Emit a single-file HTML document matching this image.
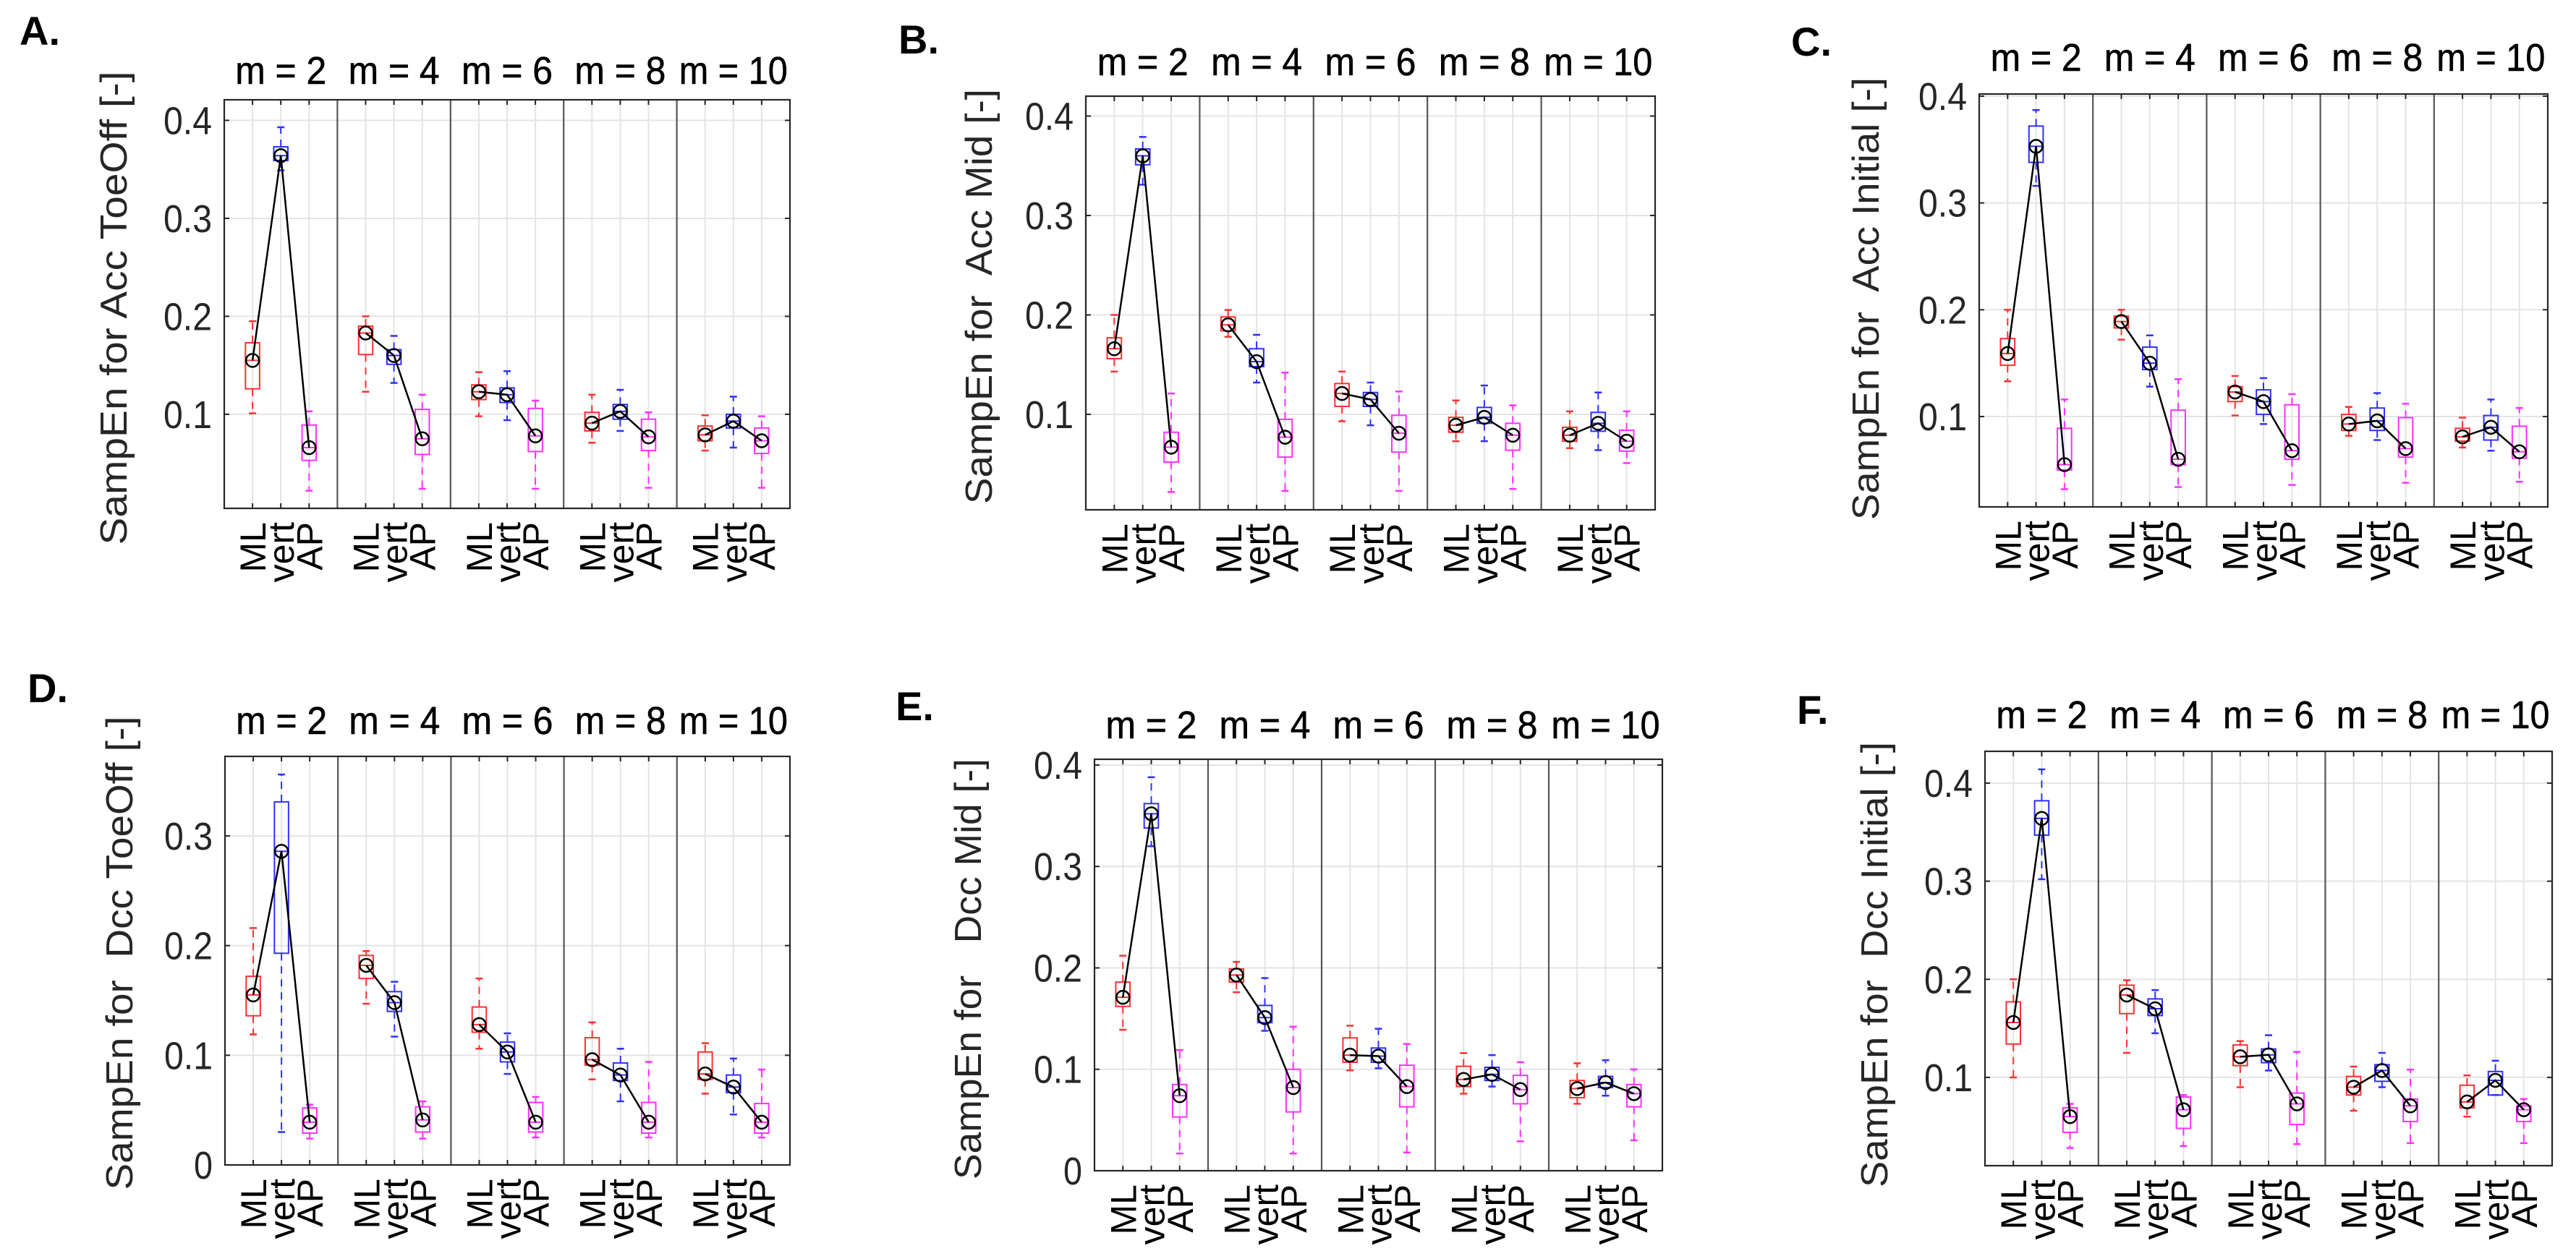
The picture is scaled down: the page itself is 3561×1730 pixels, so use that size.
<!DOCTYPE html>
<html><head><meta charset="utf-8">
<style>
html,body{margin:0;padding:0;background:#fff;}
svg{display:block;font-family:"Liberation Sans",Arial,sans-serif;}
</style></head>
<body>
<svg id="fig" width="3561" height="1730" viewBox="0 0 3561 1730" xmlns="http://www.w3.org/2000/svg"></svg>
<script>
// ---- shared categories ----
const groups = ["m = 2","m = 4","m = 6","m = 8","m = 10"];
const axes3 = ["ML","vert","AP"];
const colors = ["#ff3030","#3030ff","#ff30ff"];

// ---- Panel A: Acc ToeOff ----
const aMed = [0.155,0.364,0.066, 0.183,0.160,0.075, 0.123,0.120,0.078, 0.091,0.103,0.077, 0.079,0.093,0.073];
const aQ1  = [0.126,0.359,0.053, 0.161,0.151,0.059, 0.115,0.112,0.062, 0.083,0.095,0.063, 0.073,0.086,0.060];
const aQ3  = [0.173,0.373,0.089, 0.190,0.166,0.105, 0.130,0.127,0.106, 0.102,0.110,0.095, 0.088,0.100,0.086];
const aLo  = [0.101,0.349,0.022, 0.123,0.132,0.024, 0.098,0.094,0.024, 0.071,0.083,0.025, 0.063,0.066,0.025];
const aHi  = [0.195,0.393,0.103, 0.200,0.180,0.120, 0.143,0.144,0.114, 0.120,0.125,0.102, 0.099,0.118,0.098];
const aTicks = [0.1,0.2,0.3,0.4];

// ---- Panel B: Acc Mid ----
const bMed = [0.166,0.360,0.067, 0.190,0.153,0.077, 0.121,0.115,0.081, 0.089,0.097,0.079, 0.079,0.091,0.073];
const bQ1  = [0.156,0.351,0.052, 0.184,0.148,0.057, 0.108,0.108,0.062, 0.082,0.091,0.064, 0.073,0.083,0.063];
const bQ3  = [0.177,0.367,0.082, 0.198,0.166,0.095, 0.131,0.122,0.099, 0.097,0.107,0.091, 0.087,0.102,0.084];
const bLo  = [0.143,0.331,0.022, 0.178,0.132,0.023, 0.093,0.089,0.023, 0.073,0.073,0.025, 0.066,0.064,0.051];
const bHi  = [0.200,0.379,0.121, 0.205,0.180,0.142, 0.143,0.132,0.123, 0.114,0.129,0.109, 0.103,0.122,0.103];
const bTicks = [0.1,0.2,0.3,0.4];

// ---- Panel C: Acc Initial ----
const cMed = [0.159,0.353,0.055, 0.189,0.150,0.060, 0.123,0.114,0.068, 0.093,0.096,0.070, 0.081,0.090,0.067];
const cQ1  = [0.148,0.338,0.050, 0.183,0.144,0.055, 0.114,0.102,0.060, 0.087,0.087,0.062, 0.077,0.078,0.061];
const cQ3  = [0.173,0.372,0.089, 0.194,0.165,0.106, 0.128,0.125,0.111, 0.102,0.108,0.099, 0.089,0.101,0.091];
const cLo  = [0.133,0.316,0.032, 0.172,0.128,0.034, 0.101,0.093,0.036, 0.082,0.078,0.038, 0.071,0.068,0.039];
const cHi  = [0.200,0.387,0.116, 0.200,0.176,0.135, 0.138,0.136,0.121, 0.109,0.122,0.112, 0.099,0.116,0.108];
const cTicks = [0.1,0.2,0.3,0.4];

// ---- Panel D: Dcc ToeOff ----
const dMed = [0.155,0.286,0.039, 0.182,0.148,0.041, 0.128,0.103,0.039, 0.096,0.082,0.039, 0.083,0.071,0.039];
const dQ1  = [0.136,0.193,0.029, 0.170,0.140,0.030, 0.121,0.094,0.030, 0.091,0.077,0.029, 0.078,0.066,0.029];
const dQ3  = [0.172,0.331,0.052, 0.191,0.158,0.053, 0.144,0.112,0.057, 0.116,0.093,0.057, 0.103,0.082,0.056];
const dLo  = [0.119,0.030,0.024, 0.147,0.117,0.024, 0.106,0.083,0.025, 0.078,0.058,0.025, 0.065,0.046,0.025];
const dHi  = [0.216,0.356,0.055, 0.195,0.167,0.058, 0.170,0.120,0.062, 0.130,0.106,0.094, 0.111,0.097,0.087];
const dTicks = [0,0.1,0.2,0.3];

// ---- Panel E: Dcc Mid ----
const eMed = [0.171,0.352,0.074, 0.193,0.151,0.082, 0.114,0.113,0.083, 0.090,0.095,0.080, 0.081,0.087,0.076];
const eQ1  = [0.162,0.338,0.053, 0.186,0.146,0.058, 0.107,0.107,0.063, 0.083,0.089,0.066, 0.072,0.082,0.063];
const eQ3  = [0.186,0.362,0.085, 0.199,0.163,0.100, 0.131,0.121,0.104, 0.103,0.102,0.094, 0.089,0.093,0.085];
const eLo  = [0.139,0.320,0.017, 0.176,0.138,0.017, 0.099,0.101,0.018, 0.076,0.083,0.029, 0.066,0.074,0.030];
const eHi  = [0.212,0.388,0.119, 0.206,0.190,0.142, 0.143,0.140,0.125, 0.116,0.114,0.107, 0.106,0.109,0.100];
const eTicks = [0,0.1,0.2,0.3,0.4];

// ---- Panel F: Dcc Initial ----
const fMed = [0.156,0.364,0.060, 0.184,0.170,0.067, 0.121,0.123,0.073, 0.090,0.107,0.071, 0.075,0.097,0.067];
const fQ1  = [0.134,0.347,0.044, 0.165,0.163,0.048, 0.112,0.115,0.052, 0.082,0.096,0.055, 0.069,0.082,0.055];
const fQ3  = [0.177,0.382,0.069, 0.194,0.180,0.080, 0.133,0.129,0.084, 0.101,0.113,0.078, 0.092,0.106,0.071];
const fLo  = [0.100,0.302,0.028, 0.125,0.145,0.030, 0.090,0.107,0.032, 0.066,0.090,0.033, 0.060,0.082,0.033];
const fHi  = [0.200,0.414,0.073, 0.199,0.189,0.082, 0.137,0.143,0.126, 0.111,0.125,0.108, 0.102,0.117,0.078];
const fTicks = [0.1,0.2,0.3,0.4];

// ---- layout (pixel geometry, not data) ----
const panels = [
 {id:"a",letter:"A.",lx:27,ly:62,L:310,R:1092,T:138,B:703,ymin:0.004,ymax:0.421,tb:116,ylab:"SampEn for Acc ToeOff [-]",yx:157,yc:426,yl:655,
  med:aMed,q1:aQ1,q3:aQ3,lo:aLo,hi:aHi,ticks:aTicks},
 {id:"b",letter:"B.",lx:1242,ly:74,L:1501,R:2288,T:133,B:705,ymin:0.004,ymax:0.420,tb:104,ylab:"SampEn for  Acc Mid [-]",yx:1353,yc:410,yl:574,
  med:bMed,q1:bQ1,q3:bQ3,lo:bLo,hi:bHi,ticks:bTicks},
 {id:"c",letter:"C.",lx:2476,ly:77,L:2736,R:3522,T:130,B:701,ymin:0.0154,ymax:0.402,tb:98,ylab:"SampEn for  Acc Initial [-]",yx:2579,yc:413,yl:612,
  med:cMed,q1:cQ1,q3:cQ3,lo:cLo,hi:cHi,ticks:cTicks},
 {id:"d",letter:"D.",lx:38,ly:971,L:311,R:1092,T:1046,B:1611,ymin:0,ymax:0.3725,tb:1015,ylab:"SampEn for  Dcc ToeOff [-]",yx:165,yc:1318,yl:655,
  med:dMed,q1:dQ1,q3:dQ3,lo:dLo,hi:dHi,ticks:dTicks},
 {id:"e",letter:"E.",lx:1238,ly:996,L:1513,R:2298,T:1050,B:1619,ymin:0,ymax:0.4057,tb:1021,ylab:"SampEn for   Dcc Mid [-]",yx:1338,yc:1340,yl:582,
  med:eMed,q1:eQ1,q3:eQ3,lo:eLo,hi:eHi,ticks:eTicks},
 {id:"f",letter:"F.",lx:2484,ly:1001,L:2744,R:3528,T:1039,B:1612,ymin:0.010,ymax:0.4324,tb:1007,ylab:"SampEn for  Dcc Initial [-]",yx:2591,yc:1334,yl:616,
  med:fMed,q1:fQ1,q3:fQ3,lo:fLo,hi:fHi,ticks:fTicks}
];

const NS="http://www.w3.org/2000/svg";
const svg=document.getElementById("fig");
function mk(tag,attrs,parent){const e=document.createElementNS(NS,tag);for(const k in attrs)e.setAttribute(k,attrs[k]);(parent||svg).appendChild(e);return e;}

panels.forEach(p=>{
  const g=mk("g",{});
  
  
  const xs=i=>p.L+(p.R-p.L)*(Math.floor(i/3)*4+(i%3)+1)/20;
  const ys=v=>p.B-(v-p.ymin)/(p.ymax-p.ymin)*(p.B-p.T);
  const bw=(p.R-p.L)/20*0.5;

  const lt=mk("text",{x:p.lx,y:p.ly,"font-size":56,"font-weight":"bold",fill:"#000"},g);
  lt.textContent=p.letter;
  
  

  p.ticks.forEach(t=>{
    const y=ys(t);
    const gl=mk("line",{x1:p.L,x2:p.R,y1:y,y2:y,stroke:"#e4e4e4","stroke-width":2},g);
    
    
    mk("line",{x1:p.L,x2:p.L+7,y1:y,y2:y,stroke:"#262626","stroke-width":2},g);
    mk("line",{x1:p.R,x2:p.R-7,y1:y,y2:y,stroke:"#262626","stroke-width":2},g);
    const s=String(t);
    const tl=mk("text",{x:p.L-17,y:y+19,"font-size":54,"text-anchor":"end",fill:"#262626",textLength:s.length>1?67:26,lengthAdjust:"spacingAndGlyphs"},g);
    tl.textContent=s;
    
    
  });
  for(let i=0;i<15;i++){
    const x=xs(i);
    const vl=mk("line",{x1:x,x2:x,y1:p.T,y2:p.B,stroke:"#e4e4e4","stroke-width":2},g);
    
    
    mk("line",{x1:x,x2:x,y1:p.T,y2:p.T+7,stroke:"#262626","stroke-width":2},g);
    mk("line",{x1:x,x2:x,y1:p.B,y2:p.B-7,stroke:"#262626","stroke-width":2},g);
    const ty=p.B+19;
    const xl=mk("text",{x:0,y:0,"font-size":50,"text-anchor":"end",fill:"#000",transform:`translate(${x+18},${ty}) rotate(-90)`},g);
    xl.textContent=axes3[i%3];
    
    
  }
  for(let k=1;k<5;k++){
    const x=p.L+(p.R-p.L)*k*4/20;
    const s=mk("line",{x1:x,x2:x,y1:p.T,y2:p.B,stroke:"#555","stroke-width":2.2},g);
    
    
  }
  groups.forEach((t,k)=>{
    const cx=p.L+(p.R-p.L)*(k*4+2)/20;
    const tt=mk("text",{x:cx,y:p.tb,"font-size":54,"text-anchor":"middle",fill:"#000",textLength:t.length>5?150:126,lengthAdjust:"spacingAndGlyphs","stroke":"#000","stroke-width":0.6},g);
    tt.textContent=t;
    
    
  });
  for(let i=0;i<15;i++){
    const x=xs(i), c=colors[i%3];
    const bg=mk("g",{},g);
    
    
    mk("line",{x1:x,x2:x,y1:ys(p.q3[i]),y2:ys(p.hi[i]),stroke:c,"stroke-width":2,"stroke-dasharray":"10,8"},bg);
    mk("line",{x1:x,x2:x,y1:ys(p.q1[i]),y2:ys(p.lo[i]),stroke:c,"stroke-width":2,"stroke-dasharray":"10,8"},bg);
    mk("line",{x1:x-5,x2:x+5,y1:ys(p.hi[i]),y2:ys(p.hi[i]),stroke:c,"stroke-width":2.5},bg);
    mk("line",{x1:x-5,x2:x+5,y1:ys(p.lo[i]),y2:ys(p.lo[i]),stroke:c,"stroke-width":2.5},bg);
    mk("rect",{x:x-bw/2,y:ys(p.q3[i]),width:bw,height:Math.max(1,ys(p.q1[i])-ys(p.q3[i])),fill:"none",stroke:c,"stroke-width":2},bg);
    mk("line",{x1:x-bw/2,x2:x+bw/2,y1:ys(p.med[i]),y2:ys(p.med[i]),stroke:c,"stroke-width":2},bg);
  }
  for(let k=0;k<5;k++){
    const pts=[0,1,2].map(j=>xs(k*3+j)+","+ys(p.med[k*3+j])).join(" ");
    const pl=mk("polyline",{points:pts,fill:"none",stroke:"#000","stroke-width":2.5},g);
    
    
  }
  for(let i=0;i<15;i++){
    const cc=mk("circle",{cx:xs(i),cy:ys(p.med[i]),r:9,fill:"none",stroke:"#000","stroke-width":2.5},g);
    
    
  }
  const fr=mk("rect",{x:p.L,y:p.T,width:p.R-p.L,height:p.B-p.T,fill:"none",stroke:"#262626","stroke-width":2.2},g);
  
  
  const yl=mk("text",{x:0,y:0,"font-size":52,"text-anchor":"middle",fill:"#262626",textLength:p.yl,lengthAdjust:"spacingAndGlyphs","xml:space":"preserve",style:"white-space:pre",transform:`translate(${p.yx+18},${p.yc}) rotate(-90)`},g);
  yl.textContent=p.ylab;
  
  
});
</script>
</body></html>
